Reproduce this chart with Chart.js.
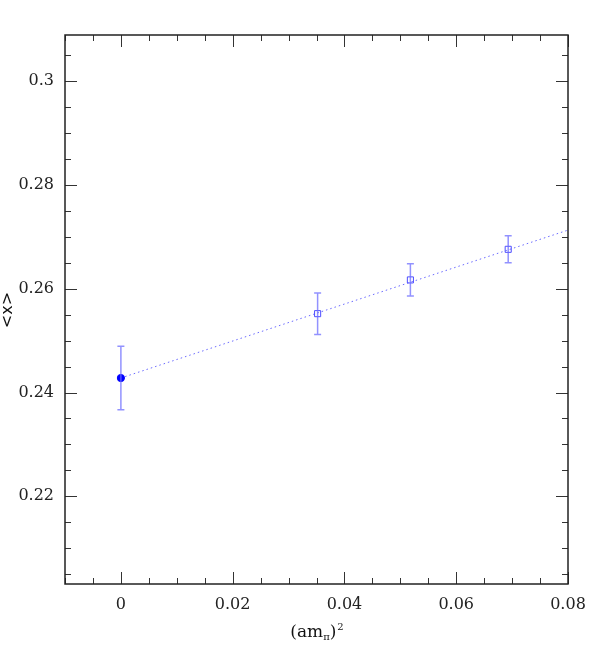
<!DOCTYPE html>
<html>
<head>
<meta charset="utf-8">
<script src="https://cdn.jsdelivr.net/npm/chart.js@4/dist/chart.umd.min.js"></script>
<style>
  html, body { margin: 0; padding: 0; background: #ffffff; }
  #wrap { width: 599px; height: 654px; position: relative; }
</style>
</head>
<body>
<div id="wrap"><canvas id="c"></canvas></div>
<script>
// ---- data ----
const latticeX   = [0.0352, 0.0518, 0.0693];
const latticeY   = [0.2552, 0.2617, 0.2676];
const latticeErr = [0.0040, 0.0031, 0.0026];

const extrapX   = [0];
const extrapY   = [0.2428];
const extrapErr = [0.0061];

const fitX = [0, 0.08];
const fitY = [0.2428, 0.2713];

const xTickLabels = [0, 0.02, 0.04, 0.06, 0.08];
const yTickLabels = [0.22, 0.24, 0.26, 0.28, 0.3];

const xRange = [-0.01, 0.08];
const yRange = [0.2031, 0.3089];
const minorStep = 0.005;

const FONT = '"DejaVu Serif", "Liberation Serif", serif';

function fmt(v) {
  if (Math.abs(v) < 1e-9) return '0';
  return String(parseFloat(v.toFixed(4)));
}

const errorBarPlugin = {
  id: 'errorBars',
  afterDatasetsDraw(chart) {
    const ctx = chart.ctx;
    const xs = chart.scales.x, ys = chart.scales.y;
    const draw = (X, Y, E, color) => {
      ctx.save();
      ctx.strokeStyle = color;
      ctx.lineWidth = 1.5;
      for (let i = 0; i < X.length; i++) {
        const px = xs.getPixelForValue(X[i]);
        const top = ys.getPixelForValue(Y[i] + E[i]);
        const bot = ys.getPixelForValue(Y[i] - E[i]);
        ctx.beginPath();
        ctx.moveTo(px, top); ctx.lineTo(px, bot);
        ctx.moveTo(px - 3.5, top); ctx.lineTo(px + 3.5, top);
        ctx.moveTo(px - 3.5, bot); ctx.lineTo(px + 3.5, bot);
        ctx.stroke();
      }
      ctx.restore();
    };
    draw(latticeX, latticeY, latticeErr, 'rgba(110,110,255,0.75)');
    draw(extrapX, extrapY, extrapErr, 'rgba(110,110,255,0.75)');
  }
};

const framePlugin = {
  id: 'frame',
  afterDraw(chart) {
    const ctx = chart.ctx;
    const a = chart.chartArea;
    const xs = chart.scales.x, ys = chart.scales.y;
    ctx.save();
    ctx.strokeStyle = '#333333';
    ctx.lineWidth = 1;
    // minor / major ticks, inward on all four sides
    const isMajor = (v, step) => Math.abs(v / step - Math.round(v / step)) < 1e-6;
    ctx.beginPath();
    const nx = Math.round((xRange[1] - xRange[0]) / minorStep);
    for (let i = 0; i <= nx; i++) {
      const v = xRange[0] + i * minorStep;
      const px = Math.round(xs.getPixelForValue(v)) + 0.5;
      const L = isMajor(v, 0.02) ? 12 : 6;
      ctx.moveTo(px, a.bottom); ctx.lineTo(px, a.bottom - L);
      ctx.moveTo(px, a.top); ctx.lineTo(px, a.top + L);
    }
    const y0 = Math.ceil(yRange[0] / minorStep - 1e-9) * minorStep;
    for (let v = y0; v <= yRange[1] + 1e-9; v += minorStep) {
      const py = Math.round(ys.getPixelForValue(v)) + 0.5;
      const L = isMajor(v, 0.02) ? 12 : 6;
      ctx.moveTo(a.left, py); ctx.lineTo(a.left + L, py);
      ctx.moveTo(a.right, py); ctx.lineTo(a.right - L, py);
    }
    ctx.stroke();
    // frame
    ctx.lineWidth = 1.5;
    ctx.strokeStyle = '#222222';
    ctx.strokeRect(a.left, a.top, a.right - a.left, a.bottom - a.top);

    // axis titles
    ctx.fillStyle = '#111111';
    // x title: (am_pi)^2
    const cx = (a.left + a.right) / 2 + 0.5;
    const by = 637;
    const big = '17px ' + FONT, small = '10px ' + FONT;
    ctx.textBaseline = 'alphabetic';
    ctx.textAlign = 'left';
    ctx.font = big;  const w1 = ctx.measureText('(am').width;
    ctx.font = small; const w2 = ctx.measureText('\u03c0').width;
    ctx.font = big;  const w3 = ctx.measureText(')').width;
    ctx.font = small; const w4 = ctx.measureText('2').width;
    let x = cx - (w1 + w2 + w3 + w4 + 1) / 2;
    ctx.font = big; ctx.fillText('(am', x, by); x += w1;
    ctx.font = small; ctx.fillText('\u03c0', x, by + 3); x += w2;
    ctx.font = big; ctx.fillText(')', x, by); x += w3;
    ctx.font = small; ctx.fillText('2', x + 1, by - 7);
    // y title
    ctx.save();
    ctx.translate(12, 310);
    ctx.rotate(-Math.PI / 2);
    ctx.textAlign = 'center';
    ctx.font = '16px "DejaVu Sans", sans-serif';
    ctx.fillText('<x>', 0, 0);
    ctx.restore();
    ctx.restore();
  }
};

new Chart(document.getElementById('c'), {
  type: 'scatter',
  data: {
    datasets: [
      {
        type: 'line',
        label: 'fit',
        data: fitX.map((x, i) => ({ x: x, y: fitY[i] })),
        borderColor: 'rgba(90,90,255,0.9)',
        borderWidth: 1,
        borderDash: [1.5, 3],
        pointRadius: 0,
        fill: false,
        tension: 0,
        order: 3
      },
      {
        label: 'lattice',
        data: latticeX.map((x, i) => ({ x: x, y: latticeY[i] })),
        pointStyle: 'rect',
        pointRadius: 4.3,
        borderColor: '#4d4dff',
        backgroundColor: 'rgba(0,0,0,0)',
        borderWidth: 1,
        order: 1
      },
      {
        label: 'extrapolated',
        data: extrapX.map((x, i) => ({ x: x, y: extrapY[i] })),
        pointStyle: 'circle',
        pointRadius: 3.6,
        borderColor: '#0000ff',
        backgroundColor: '#0000ff',
        borderWidth: 1,
        order: 0
      }
    ]
  },
  options: {
    responsive: true,
    maintainAspectRatio: false,
    animation: false,
    layout: { padding: { left: 0, right: 31, top: 35, bottom: 0 } },
    plugins: {
      legend: { display: false },
      tooltip: { enabled: false }
    },
    scales: {
      x: {
        type: 'linear',
        min: xRange[0],
        max: xRange[1],
        afterBuildTicks: (s) => { s.ticks = xTickLabels.map(v => ({ value: v })); },
        afterFit: (s) => { s.height = 70; },
        grid: { display: false, drawTicks: false },
        border: { display: false },
        ticks: {
          padding: 11,
          maxRotation: 0,
          autoSkip: false,
          color: '#222222',
          font: { family: FONT, size: 16 },
          callback: (v) => fmt(v)
        }
      },
      y: {
        type: 'linear',
        min: yRange[0],
        max: yRange[1],
        afterBuildTicks: (s) => { s.ticks = yTickLabels.map(v => ({ value: v })); },
        afterFit: (s) => { s.width = 65; },
        grid: { display: false, drawTicks: false },
        border: { display: false },
        ticks: {
          padding: 11,
          autoSkip: false,
          color: '#222222',
          font: { family: FONT, size: 16 },
          callback: (v) => fmt(v)
        }
      }
    }
  },
  plugins: [errorBarPlugin, framePlugin]
});
</script>
</body>
</html>
